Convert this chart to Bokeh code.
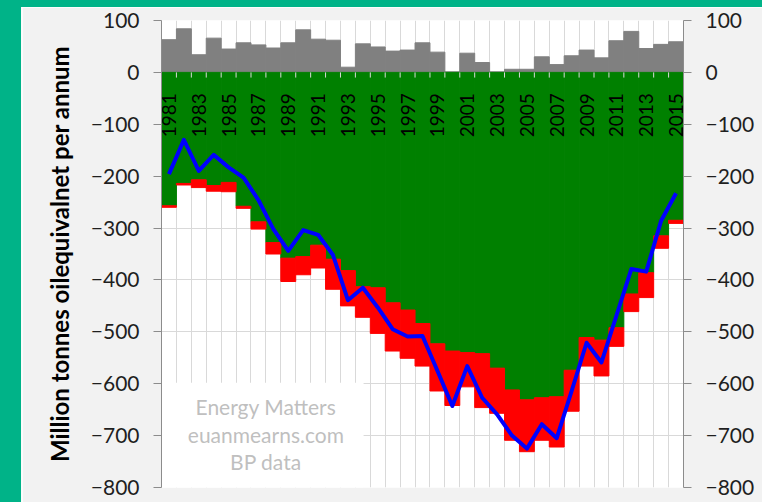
import math
from bokeh.plotting import figure
from bokeh.models import ColumnDataSource, FixedTicker, LinearAxis, BoxAnnotation, Range1d
from bokeh.core.properties import value
from bokeh.embed import file_html
from bokeh.resources import INLINE

years = list(range(1981, 2016))
gray = [63, 84, 34, 66, 45, 57, 53, 47, 57, 82, 64, 62, 10, 55, 49, 41, 43, 57, 39, 1,
        37, 19, 1, 6, 6, 30, 15, 32, 43, 28, 61, 79, 46, 54, 59]
green = [-257, -214, -207, -218, -212, -258, -288, -328, -358, -355, -333, -360, -382, -413,
         -415, -444, -458, -484, -523, -537, -540, -542, -570, -612, -631, -627, -625, -574,
         -511, -516, -492, -427, -386, -315, -285]
red = [-3, -3, -15, -11, -18, -4, -14, -22, -45, -35, -44, -58, -68, -59, -88, -93, -93, -82,
       -91, -105, -66, -104, -87, -97, -100, -82, -97, -79, -55, -69, -36, -34, -48, -24, -6]
net = [-196, -130, -190, -159, -183, -203, -246, -302, -344, -304, -313, -352, -439, -415,
       -453, -495, -509, -508, -575, -643, -566, -627, -659, -700, -725, -678, -705, -614,
       -521, -559, -469, -379, -384, -286, -233]
y_ticks = list(range(-800, 101, 100))
label_years = years[::2]
label_texts = [str(y) for y in label_years]
watermark = ["Energy Matters", "euanmearns.com", "BP data"]

FONT = "Lato"
bounds = [y - 0.5 for y in years] + [years[-1] + 0.5]

p = figure(width=740, height=495,
           x_range=Range1d(bounds[0], bounds[-1]), y_range=Range1d(-800, 100),
           x_axis_location=None, y_axis_location="left",
           output_backend="svg", toolbar_location=None,
           min_border_left=139, min_border_right=79, min_border_top=13, min_border_bottom=15,
           background_fill_color="white", border_fill_color="#f2f2f2",
           outline_line_color=None,
           styles={"margin-left": "22px", "margin-top": "7px",
                   "box-shadow": "-1px 0 0 0 #fbfbfb, 0 0 0 22px #00b388"})

p.xgrid.ticker = FixedTicker(ticks=bounds)
p.ygrid.ticker = FixedTicker(ticks=y_ticks)
for g in (p.xgrid, p.ygrid):
    g.grid_line_color = "#d9d9d9"
    g.grid_line_width = 1

p.add_layout(LinearAxis(), "right")
for ax in p.yaxis:
    ax.ticker = FixedTicker(ticks=y_ticks)
    ax.axis_line_color = "#8c8c8c"
    ax.major_tick_line_color = "#8c8c8c"
    ax.major_tick_in = 0
    ax.major_tick_out = 8
    ax.minor_tick_line_color = None
    ax.major_label_text_font = FONT
    ax.major_label_text_font_size = "21px"
    ax.major_label_text_color = "#1f1f1f"
    ax.major_label_standoff = 14

left = p.yaxis[0]
left.axis_label = "Million tonnes oilequivalnet per annum"
left.axis_label_text_font = FONT
left.axis_label_text_font_style = "bold"
left.axis_label_text_font_size = "24px"
left.axis_label_text_color = "#000000"
left.axis_label_standoff = 14

# white box behind the watermark (covers the grid)
p.add_layout(BoxAnnotation(left=bounds[0], right=1994.05, bottom=-800, top=-598,
                           fill_color="white", fill_alpha=1, line_color=None,
                           level="underlay"))

src = ColumnDataSource(dict(year=years, gray=gray, green=green, red=red, net=net))
p.vbar(x="year", top="gray", bottom=0, width=1, color="#808080", source=src)
p.vbar_stack(["green", "red"], x="year", width=1, color=["#008000", "#ff0000"], source=src)

# category ticks on the zero line
p.segment(x0=bounds, y0=[0] * len(bounds), x1=bounds, y1=[-10] * len(bounds),
          line_color="#d9d9d9", line_width=1)

p.line(x="year", y="net", source=src, line_color="#0000ff", line_width=4, line_join="round")

p.text(x=label_years, y=[-40] * len(label_years), text=label_texts, angle=math.pi / 2,
       text_align="right", text_baseline="middle", text_font=value(FONT),
       text_font_size="19px", text_color="#000000")

p.text(x=[1987.5] * 3, y=[-643, -697, -749], text=watermark,
       text_align="center", text_baseline="middle", text_font=value(FONT),
       text_font_size="21px", text_color="#bfbfbf")

open("out.html", "w").write(file_html(p, INLINE))
